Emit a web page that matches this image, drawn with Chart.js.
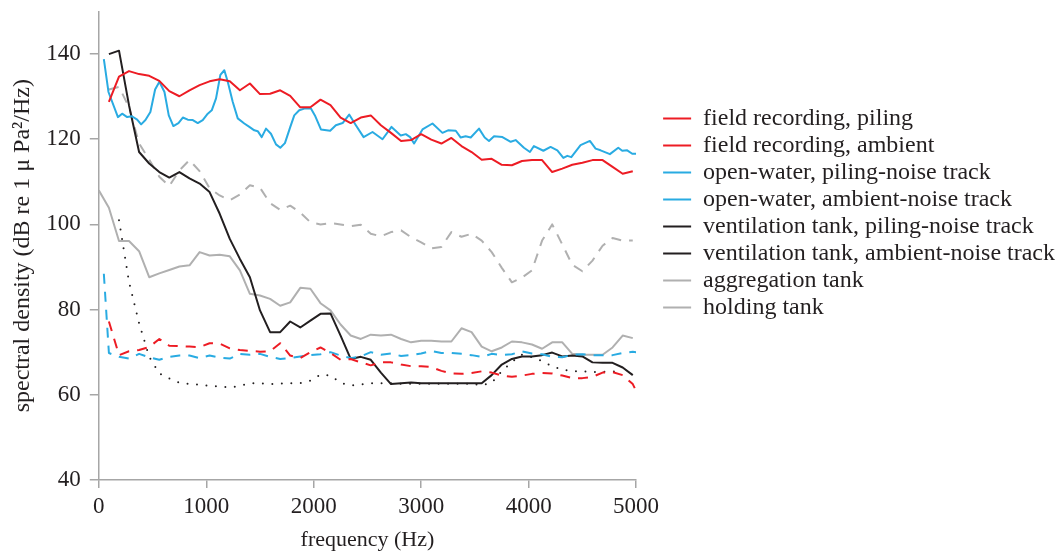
<!DOCTYPE html>
<html>
<head>
<meta charset="utf-8">
<title>spectral density</title>
<script src="https://cdn.jsdelivr.net/npm/chart.js@4.4.0/dist/chart.umd.min.js"></script>
<style>
    html, body { margin: 0; padding: 0; background: #ffffff; }
    #wrap { width: 1057px; height: 551px; }
</style>
</head>
<body>
<div id="wrap"><canvas id="spectrum"></canvas></div>
<script>
// frequency bins (Hz), shared by most of the tracks
var freq = [0, 47, 94, 188, 281, 375, 469, 563, 656, 750, 844, 938, 1031, 1125, 1219, 1313, 1406, 1500,
    1594, 1688, 1781, 1875, 1969, 2063, 2156, 2250, 2344, 2438, 2531, 2625, 2719, 2813, 2906, 3000,
    3094, 3188, 3281, 3375, 3469, 3563, 3656, 3750, 3844, 3938, 4031, 4125, 4219, 4313, 4406, 4500,
    4594, 4688, 4781, 4875, 4969, 5000];

var fieldPiling = [null, null, 128.8, 134.7, 136, 135.3, 134.9, 133.7, 131.3, 130.1, 131.5, 132.7, 133.6, 134.1,
    133.6, 131.5, 133.1, 130.6, 130.7, 131.5, 130.2, 127.5, 127.5, 129.3, 128, 125.1, 123.8, 125.1, 125.6,
    123.3, 121.5, 119.6, 119.8, 121.2, 119.9, 119, 120.3, 118.4, 117, 115.2, 115.4, 114, 113.9, 114.9,
    115.1, 115.1, 112.3, 113.1, 114, 114.5, 115.1, 115.1, 113.5, 111.9, 112.5, null];

var fieldAmbient = [null, null, 77.2, 69.3, 70.2, 70.5, 71.2, 73.1, 71.5, 71.4, 71.3, 71.2, 72.1, 72, 70.9,
    70.5, 70.3, 70.1, 70.2, 72.1, 69.2, 68.6, 70, 71.1, 69.8, 68.2, 68.4, 67.6, 66.9, 67.6, 67.6, 67.1,
    66.7, 66.7, 66.5, 65.6, 65, 64.9, 65.1, 65.5, 65.2, 64.5, 64.2, 64.5, 64.9, 65.1, 65, 64.5, 63.9,
    63.9, 64.2, 65.2, 65.3, 64.6, 62.5, 60.9];

// the open-water piling track is finer, it keeps its own bins
var owFreq = [47, 90, 178, 217, 264, 308, 357, 394, 434, 480, 524, 564, 611, 651, 694, 741, 782, 828, 875, 921,
    967, 1014, 1051, 1091, 1131, 1168, 1200, 1246, 1293, 1354, 1401, 1447, 1479, 1516, 1556, 1602, 1649,
    1689, 1732, 1782, 1819, 1865, 1912, 1974, 2011, 2067, 2153, 2206, 2269, 2330, 2392, 2464, 2547, 2640,
    2724, 2810, 2857, 2897, 2934, 3012, 3105, 3198, 3250, 3322, 3368, 3414, 3461, 3538, 3591, 3631, 3678,
    3756, 3833, 3879, 3956, 4012, 4049, 4137, 4204, 4267, 4323, 4360, 4397, 4483, 4570, 4623, 4669, 4756,
    4834, 4871, 4917, 4964, 5000];

var owPiling = [138.8, 131.1, 125.2, 126, 125.2, 125.4, 124.6, 123.5, 124.5, 126.4, 131.7, 133.5, 131.1, 125.6,
    123.1, 123.8, 125.1, 124.6, 124.5, 123.8, 124.5, 126, 126.8, 129.6, 135.1, 136.2, 133.5, 128.8, 124.9,
    123.7, 122.9, 122.1, 121.9, 120.5, 122.5, 121.3, 118.8, 118, 119.1, 122.9, 125.6, 126.8, 127.2, 127.2,
    125.6, 122.3, 122, 123.3, 123.8, 125.8, 123.3, 120.5, 121.7, 120, 122.9, 120.9, 121.2, 120.5, 119,
    122.3, 123.7, 121.5, 122.1, 122, 120.4, 120.7, 120.4, 122.5, 120.4, 119.6, 120.7, 120.5, 119.4, 119.8,
    118, 117, 118.4, 117.3, 118.2, 117.4, 115.6, 116.1, 115.8, 118.6, 119.6, 117.8, 117.4, 116.5, 118,
    117.3, 117.4, 116.6, 116.6];

var owAmbient = [null, 88.4, 69.8, 68.9, 68.5, 69.6, 68.8, 68.2, 68.9, 69.2, 69.2, 68.6, 69.2, 68.7, 68.5,
    69.6, 69.4, 69.6, 68.9, 68.4, 68.6, 69, 69.3, 69.5, 70, 69.2, 68.6, 69, 70, 69.4, 69.7, 69.1, 69.3,
    69.7, 70.3, 69.8, 69.8, 69.6, 69.3, 68.9, 69.6, 69.3, 69.5, 70.2, 69.7, 69.5, 68.9, 68.8, 69.4, 69.5,
    69.3, 69.3, 69.3, 69.8, 70.1, 70];

var ventPiling = [null, null, 140, 140.8, 128, 117, 114.3, 112.3, 111, 112.3, 110.8, 109.6, 107.6, 102.5, 96.6,
    91.9, 87.6, 79.8, 74.7, 74.7, 77.2, 75.8, 77.4, 79, 79.1, 73.9, 68.4, 68.9, 68.2, 65.2, 62.5, 62.7,
    62.9, 62.7, 62.7, 62.7, 62.7, 62.7, 62.7, 62.7, 64.6, 67.1, 68.4, 69, 69, 69.3, 69.9, 69, 69.2, 69,
    67.6, 67.5, 67.5, 66.4, 64.6, null];

var ventAmbient = [null, null, null, 101, 86.5, 76.8, 68.9, 65, 63.8, 62.8, 62.5, 62.4, 62.1, 61.9, 61.7,
    62.1, 62.7, 62.7, 62.5, 62.6, 62.7, 62.7, 63.3, 64.7, 64.5, 62.8, 62.2, 62.4, 62.7, 62.7, 62.7, 62.6,
    62.6, 62.6, 62.6, 62.6, 62.6, 62.6, 62.6, 62.2, 62.8, 65.5, 67.7, 69.4, 68.8, 67.9, 66.7, 65.9, 65.5,
    65.5, 65.3, 65.4, 65.5, 65.1, null, null];

var aggregationTank = [null, null, 131.7, 132.3, 127.5, 119, 115.2, 111.2, 109, 112.7, 115.1, 112.5, 108.5,
    106.8, 105.7, 107, 109.2, 108.6, 105, 103.4, 104.4, 102.8, 100.5, 100, 100.3, 100, 99.6, 99.9, 97.8,
    97.2, 98.2, 98.6, 97, 95.8, 94.4, 94.7, 98.2, 97.1, 97.8, 96.2, 93.5, 89.8, 86.4, 87.5, 89.2, 96.2,
    100, 95.3, 90.5, 89, 91.5, 95, 96.8, 96.2, 96.2, null];

var holdingTank = [108, null, 103.9, 96.1, 96.1, 93.7, 87.6, 88.5, 89.3, 90.1, 90.4, 93.5, 92.7, 92.9, 92.5,
    89.2, 83.7, 83.3, 82.5, 80.9, 81.7, 85.1, 84.9, 81.5, 79.8, 76.5, 73.9, 73.1, 74.1, 73.9, 74.1, 73.1,
    72.3, 72.7, 72.7, 72.5, 72.5, 75.6, 74.7, 71.3, 70.2, 71.1, 72.5, 72.3, 71.8, 70.8, 72.3, 72.3, 69.6,
    69.4, 69.4, 69.4, 71.1, 73.9, 73.3, null];

var xTicks = [0, 1000, 2000, 3000, 4000, 5000];
var yTicks = [40, 60, 80, 100, 120, 140];

var RED = '#ed1c24';
var BLUE = '#29abe2';
var BLACK = '#231f20';
var GREY = '#b0b0b0';
var AXIS = '#a6a6a6';
var SERIF = "'Liberation Serif', 'Times New Roman', serif";

// pair up x and y arrays, skipping empty bins
function series(xs, ys) {
    var pts = [];
    for (var i = 0; i < xs.length; i++) {
        if (ys[i] !== null) pts.push({ x: xs[i], y: ys[i] });
    }
    return pts;
}

function track(label, xs, ys, color, dash, cap) {
    return {
        label: label,
        data: series(xs, ys),
        borderColor: color,
        backgroundColor: color,
        borderWidth: 2,
        borderDash: dash || [],
        borderCapStyle: cap || 'butt',
        borderJoinStyle: 'round',
        pointRadius: 0,
        pointHoverRadius: 0,
        tension: 0,
        fill: false
    };
}

// legend sits a bit away from the plot, as in the figure:
// widen its box so the plot ends at 5000 Hz, then slide its items right
var legendGap = 16;
var legendShift = 24;
var legendSpacer = {
    id: 'legendSpacer',
    beforeInit: function (chart) {
        var fit = chart.legend.fit;
        chart.legend.fit = function () {
            fit.call(this);
            this.width += legendGap;
        };
    },
    afterLayout: function (chart) {
        chart.legend.left += legendShift;
    }
};

var dashed = [10, 8];

var chart = new Chart(document.getElementById('spectrum').getContext('2d'), {
    type: 'line',
    data: {
        datasets: [
            track('field recording, piling', freq, fieldPiling, RED),
            track('field recording, ambient', freq, fieldAmbient, RED, dashed),
            track('open-water, piling-noise track', owFreq, owPiling, BLUE),
            track('open-water, ambient-noise track', freq, owAmbient, BLUE, dashed),
            track('ventilation tank, piling-noise track', freq, ventPiling, BLACK),
            track('ventilation tank, ambient-noise track', freq, ventAmbient, BLACK, [0, 9.5], 'round'),
            track('aggregation tank', freq, aggregationTank, GREY, dashed),
            track('holding tank', freq, holdingTank, GREY)
        ]
    },
    options: {
        responsive: true,
        maintainAspectRatio: false,
        animation: false,
        layout: { padding: { top: 11.5, left: 0, right: 0, bottom: 0 } },
        plugins: {
            tooltip: { enabled: false },
            legend: {
                position: 'right',
                align: 'start',
                maxWidth: 500,
                title: { display: true, text: '', font: { size: 10 }, padding: { top: 80, bottom: 0 } },
                labels: {
                    usePointStyle: true,
                    pointStyle: 'line',
                    pointStyleWidth: 28,
                    padding: 3,
                    color: BLACK,
                    font: { family: SERIF, size: 24 }
                }
            }
        },
        scales: {
            x: {
                type: 'linear',
                min: 0,
                max: 5000,
                afterBuildTicks: function (scale) {
                    scale.ticks = xTicks.map(function (v) { return { value: v }; });
                },
                ticks: {
                    color: BLACK,
                    padding: 5.5,
                    maxRotation: 0,
                    font: { family: SERIF, size: 23 },
                    callback: function (v) { return String(v); }
                },
                grid: { drawOnChartArea: false, drawTicks: true, tickLength: 8, color: AXIS, lineWidth: 1.5 },
                border: { color: AXIS, width: 1.5 },
                title: {
                    display: true,
                    text: 'frequency (Hz)',
                    color: BLACK,
                    font: { family: SERIF, size: 22, lineHeight: 1 },
                    padding: { top: 2.5, bottom: 0 }
                }
            },
            y: {
                min: 40,
                max: 150,
                afterBuildTicks: function (scale) {
                    scale.ticks = yTicks.map(function (v) { return { value: v }; });
                },
                afterFit: function (scale) {
                    // top tick is 140, no label sits at the top edge
                    scale.paddingTop = 0;
                },
                ticks: {
                    color: BLACK,
                    padding: 9,
                    font: { family: SERIF, size: 23 },
                    callback: function (v) { return String(v); }
                },
                grid: { drawOnChartArea: false, drawTicks: true, tickLength: 9, color: AXIS, lineWidth: 1.5 },
                border: { color: AXIS, width: 1.5 },
                title: {
                    display: true,
                    text: 'spectral density (dB re 1 \u03bc Pa\u00b2/Hz)',
                    color: BLACK,
                    font: { family: SERIF, size: 24 },
                    padding: { top: 8.5, bottom: 0 }
                }
            }
        }
    },
    plugins: [legendSpacer]
});
</script>
</body>
</html>
